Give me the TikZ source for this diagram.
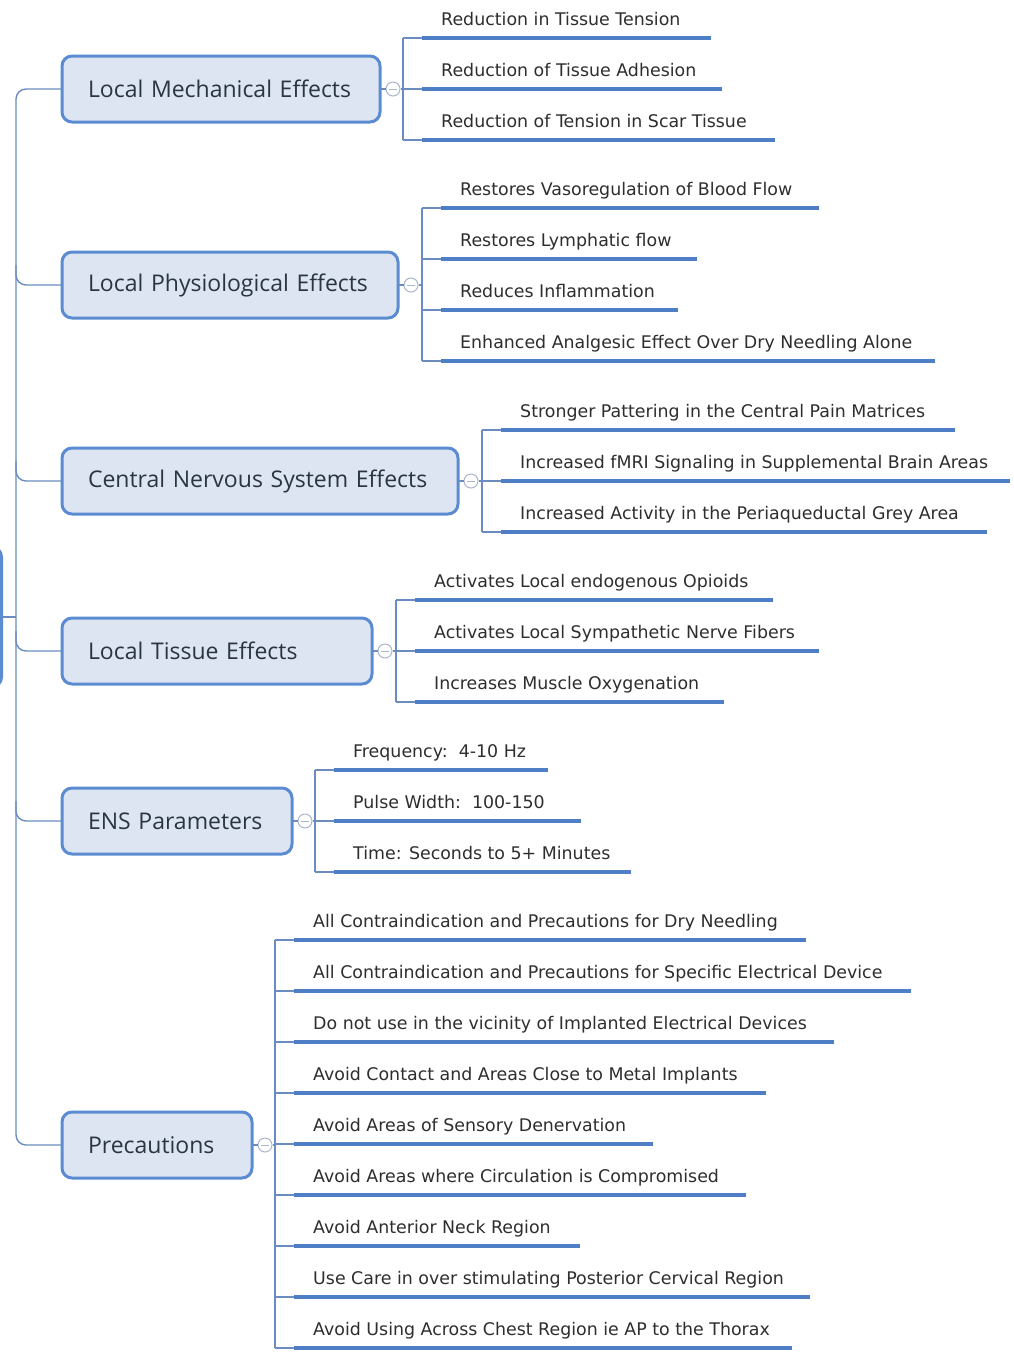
\documentclass[tikz,border=0pt]{standalone}
\usepackage{fontspec}
\setmainfont{DejaVu Sans}
\newfontfamily\titlefont{Open Sans}
\newfontfamily\leaffont{DejaVu Sans}

\definecolor{boxfill}{HTML}{DCE5F1}
\definecolor{boxline}{HTML}{5B8CD2}
\definecolor{connline}{HTML}{6A8CC0}
\definecolor{ulinecol}{HTML}{4E7EC6}
\definecolor{titletxt}{HTML}{2A3544}
\definecolor{leaftxt}{HTML}{2E2E2E}
\definecolor{knobcol}{HTML}{A9B6CB}

\tikzset{
  mainbox/.style={draw=boxline, line width=3pt, fill=boxfill, rounded corners=10pt,
    text=titletxt, font=\titlefont\fontsize{23}{27}\selectfont,
    minimum height=66pt, inner ysep=0pt, inner xsep=26pt, outer sep=0pt,
    text width=#1-52pt, align=left},
  leaf/.style={text=leaftxt, font=\leaffont\fontsize{17.4}{20}\selectfont, inner sep=0pt},
  conn/.style={draw=connline, line width=1.4pt},
  uline/.style={draw=ulinecol, line width=4pt},
  knob/.style={circle, draw=knobcol, fill=white, line width=1pt, minimum size=14pt,
    inner sep=0pt,
    path picture={\draw[knobcol, line width=1pt]
      ([xshift=-4pt]path picture bounding box.center) --
      ([xshift=4pt]path picture bounding box.center);}},
}

% one subtopic: #1 name, #2 bracket x, #3 underline y, #4 underline end x, #5 text
\newcommand{\subtopic}[5]{%
  \coordinate (#1s) at (#2+19,#3);
  \coordinate (#1e) at (#4,#3);
  \coordinate (#1b) at (#2,#3);
  \node[leaf, anchor=base west] (#1) at (#2+38,#3-13) {#5};
  \draw[uline] (#1s) -- (#1e);
  \draw[conn] (#1b) -- (#1s);
}

% main topic hook-up: #1 box name, #2 bracket x, #3 first y, #4 last y
\newcommand{\hookup}[4]{%
  \node[knob] (#1k) at ([xshift=13pt]#1.east) {};
  \coordinate (#1j) at (#2,0 |- #1.east);
  \draw[conn] (#1.east) -- (#1k.west);
  \draw[conn] (#1k.east) -- (#1j);
  \draw[conn] (#2,#3) -- (#2,#4);
}

\begin{document}
\begin{tikzpicture}[x=1pt,y=-1pt]
\clip (0,0) rectangle (1013,1352);
\fill[white] (0,0) rectangle (1013,1352);

% central topic, mostly off to the left
\node[draw=boxline, line width=3pt, fill=boxfill, rounded corners=10pt,
      minimum width=100pt, minimum height=140pt, inner sep=0pt] (root) at (-48.5,617) {};
\coordinate (spine) at (16,617);
\draw[conn] (root.east) -- (spine);

% main topics (left edge at x = 62)
\node[mainbox=318pt, anchor=west] (m1) at (62,89) {Local Mechanical Effects};
\node[mainbox=336pt, anchor=west] (m2) at (62,285) {Local Physiological Effects};
\node[mainbox=396pt, anchor=west] (m3) at (62,481) {Central Nervous System Effects};
\node[mainbox=310pt, anchor=west] (m4) at (62,651) {Local Tissue Effects};
\node[mainbox=230pt, anchor=west] (m5) at (62,821) {ENS Parameters};
\node[mainbox=190pt, anchor=west] (m6) at (62,1145) {Precautions};

% spine from the central topic to the main topics
\draw[conn, rounded corners=10pt] (m1.west) -| (spine) |- (m6.west);
\foreach \m/\yy in {m2/285, m3/481, m4/651, m5/821}
  \draw[conn, rounded corners=10pt] (16,\yy-20) |- (\m.west);

% Local Mechanical Effects
\hookup{m1}{403}{38}{140}
\subtopic{a1}{403}{38}{711}{Reduction in Tissue Tension}
\subtopic{a2}{403}{89}{722}{Reduction of Tissue Adhesion}
\subtopic{a3}{403}{140}{775}{Reduction of Tension in Scar Tissue}

% Local Physiological Effects
\hookup{m2}{422}{208}{361}
\subtopic{b1}{422}{208}{819}{Restores Vasoregulation of Blood Flow}
\subtopic{b2}{422}{259}{697}{Restores Lymphatic flow}
\subtopic{b3}{422}{310}{678}{Reduces Inflammation}
\subtopic{b4}{422}{361}{935}{Enhanced Analgesic Effect Over Dry Needling Alone}

% Central Nervous System Effects
\hookup{m3}{482}{430}{532}
\subtopic{c1}{482}{430}{955}{Stronger Pattering in the Central Pain Matrices}
\subtopic{c2}{482}{481}{1010}{Increased fMRI Signaling in Supplemental Brain Areas}
\subtopic{c3}{482}{532}{987}{Increased Activity in the Periaqueductal Grey Area}

% Local Tissue Effects
\hookup{m4}{396}{600}{702}
\subtopic{d1}{396}{600}{773}{Activates Local endogenous Opioids}
\subtopic{d2}{396}{651}{819}{Activates Local Sympathetic Nerve Fibers}
\subtopic{d3}{396}{702}{724}{Increases Muscle Oxygenation}

% ENS Parameters
\hookup{m5}{315}{770}{872}
\subtopic{e1}{315}{770}{548}{Frequency:\ \ 4-10 Hz}
\subtopic{e2}{315}{821}{581}{Pulse Width:\ \ 100-150}
\subtopic{e3}{315}{872}{631}{Time: Seconds to 5+ Minutes}

% Precautions
\hookup{m6}{275}{940}{1348}
\subtopic{f1}{275}{940}{806}{All Contraindication and Precautions for Dry Needling}
\subtopic{f2}{275}{991}{911}{All Contraindication and Precautions for Specific Electrical Device}
\subtopic{f3}{275}{1042}{834}{Do not use in the vicinity of Implanted Electrical Devices}
\subtopic{f4}{275}{1093}{766}{Avoid Contact and Areas Close to Metal Implants}
\subtopic{f5}{275}{1144}{653}{Avoid Areas of Sensory Denervation}
\subtopic{f6}{275}{1195}{746}{Avoid Areas where Circulation is Compromised}
\subtopic{f7}{275}{1246}{580}{Avoid Anterior Neck Region}
\subtopic{f8}{275}{1297}{810}{Use Care in over stimulating Posterior Cervical Region}
\subtopic{f9}{275}{1348}{792}{Avoid Using Across Chest Region ie AP to the Thorax}
\end{tikzpicture}
\end{document}
